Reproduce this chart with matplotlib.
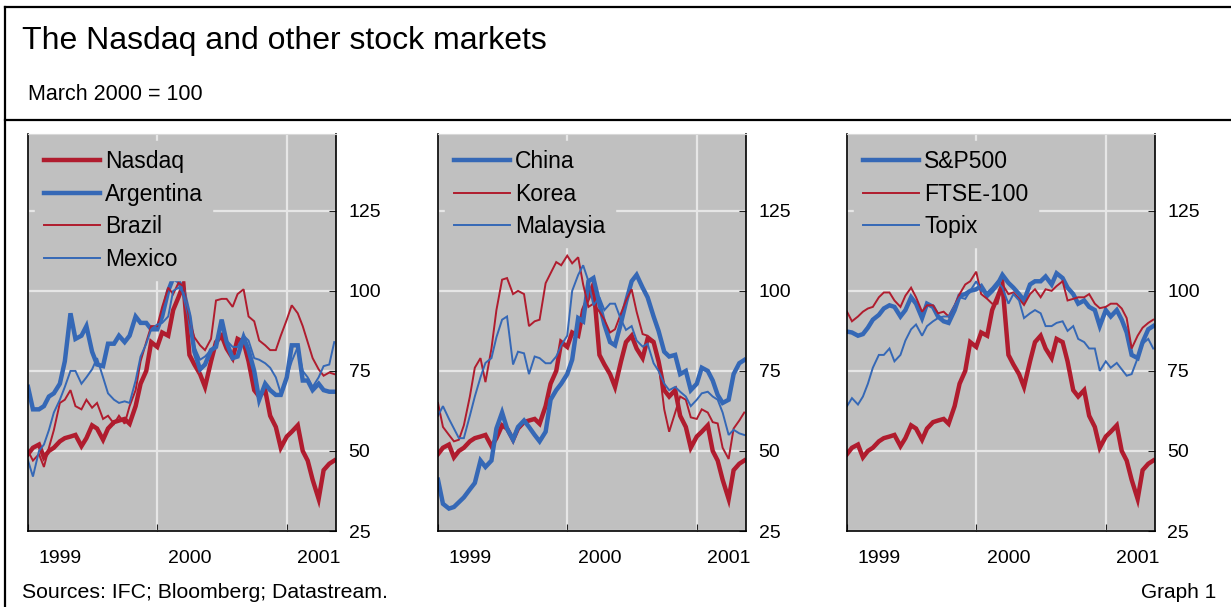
# Nasdaq and other stock markets, March 2000 = 100

import pandas as pd
import matplotlib
matplotlib.use("Agg")
import matplotlib.pyplot as plt
import matplotlib.dates as mdates
from matplotlib.lines import Line2D

plt.rcParams['font.family'] = ['Liberation Sans', 'DejaVu Sans']

# semi-monthly observations, Jan 1999 - May 2001
dates = pd.date_range('1999-01-01', '2001-05-15', freq='SMS')

nasdaq = [49, 51, 52, 48, 50, 51, 53, 54, 54.5, 55, 51.5, 54, 58, 57, 53.5, 57, 59, 59.5, 60, 58.5,
          64, 71, 75, 84, 82.5, 87, 86, 94, 98, 102, 80, 77, 74, 70, 78, 84, 86, 82, 79, 85,
          84, 78, 69, 67, 69, 61, 57.5, 51, 54.5, 56, 58, 50, 47, 41, 35, 44, 46, 47]
argentina = [70, 63, 63, 64, 67, 68, 71, 78, 93, 85, 86, 89, 81, 77, 76.5, 83.5, 83.5, 86, 84, 86,
             92, 90, 90, 88, 88, 92, 100, 104, 103, 100, 92, 81, 75.5, 77, 81.5, 82.5, 91, 84, 79, 79.5,
             85.5, 81.5, 75, 66, 71, 69, 67.5, 67.5, 73, 83, 83, 72, 72, 69, 71, 69, 68.5, 68.5]
brazil = [50, 47, 49, 45, 51, 56.5, 65, 66, 69, 64, 63, 66, 63.5, 65, 60, 61, 58.5, 61, 58.5, 64,
          69, 78, 84, 89, 89, 95, 101, 99, 102.5, 101.5, 91, 85.5, 83, 81.5, 85, 97, 97.5, 97.5, 95, 99,
          100.5, 92, 90.5, 84.5, 83, 81.5, 81.5, 86, 91, 95.5, 93, 89, 84, 79, 75.5, 73.5, 74.5, 74]
mexico = [47, 42, 50, 52, 56.5, 62, 66, 70, 75, 75, 71, 73, 75.5, 79, 73, 68, 66, 65, 65.5, 65,
          72, 79.5, 83.5, 88, 89.5, 90, 92, 100, 101, 99.5, 93, 82.5, 78.5, 79.5, 81.5, 83, 91, 84.5, 82.5, 82.5,
          86, 84.5, 79, 78.5, 77.4, 76, 73, 68, 73, 78, 82.5, 75, 73, 70, 73, 76.5, 77, 84]
china = [41, 33.5, 32, 32.5, 34, 35.5, 38, 40, 47, 45, 47, 57, 62, 57, 53.5, 57.5, 59.5, 57.5, 55, 53,
         56, 66, 69, 71, 74, 78.5, 91.5, 90.5, 103, 104, 96, 89.5, 84, 83, 90, 96.5, 103, 105, 101, 98,
         92, 87.5, 81, 79.5, 80, 74, 75, 69, 71, 76, 75, 72, 67.5, 65, 66, 74, 77.4, 78.4]
korea = [65, 57.5, 55, 53, 53.5, 58, 67, 76, 79, 71.5, 82, 94, 103.5, 104, 99, 100, 99, 89, 90.5, 91,
         102.4, 105.5, 109, 108, 111, 108.6, 110.5, 102, 95, 96, 93.5, 91, 87, 88, 93, 97, 100.5, 93.5, 86.5, 86,
         84.5, 77.4, 63, 56, 62, 67, 66, 60.5, 60, 63, 62, 59, 58.6, 51, 47.5, 57, 59.5, 62]
malaysia = [61, 64, 60, 57, 54, 54, 61, 67, 73, 77.5, 79, 85.5, 91, 92, 77, 81, 80.5, 74, 79.5, 79,
            77.4, 77.4, 79.5, 83, 86, 100, 105, 108, 103, 95.5, 98, 94, 96, 96, 91, 87.8, 89, 84.5, 82.6, 83.5,
            77.4, 75, 71, 69, 70, 68.5, 67, 64, 66, 68, 68.5, 67, 66, 62, 55, 56.6, 55.5, 55]
sp500 = [87.3, 87, 86, 86.5, 88.5, 91, 92.5, 94.5, 95.5, 95, 92, 94, 98, 96, 91.5, 96, 95, 92, 90.5, 90,
         94, 98.5, 99, 100, 100.5, 101.5, 98.5, 100, 102, 105, 102.5, 101, 99, 97, 102, 103, 103, 104.5, 102, 105.5,
         104, 101, 99, 96, 97, 95, 94, 89, 94, 92, 94, 91, 87, 80, 79, 84, 88, 89]
ftse = [93.5, 90.5, 92, 93.5, 94.5, 95, 98, 99.5, 99.5, 97, 95, 98.5, 101, 98, 93.5, 95.5, 95.5, 93, 93.5, 92,
        95.5, 99, 102, 103, 106, 99, 97.5, 96, 96, 102, 99, 99.5, 97.5, 95.6, 99, 100.5, 98, 100.5, 100, 101.5,
        103, 97, 97.5, 98, 98, 99, 96, 94.6, 95, 96, 96, 94.5, 91.5, 82, 86, 88.5, 90, 91]
topix = [64, 66.5, 64.5, 67, 71, 76, 80, 80, 82, 78, 80, 84.5, 88, 89.5, 86, 89, 90.5, 91.5, 92, 92,
         95.5, 98, 97.5, 100, 103, 100, 99.5, 101, 103, 101, 96, 99, 97, 91.5, 93, 94, 93, 89, 89, 90,
         90.5, 87.5, 89, 85, 84, 82, 82, 75, 78, 76, 77.5, 75.5, 73.5, 74, 79, 83.5, 85, 82]

RED = '#B01C2E'
BLUE = '#3568B6'
BG = '#C0C0C0'
GRID = '#E6E6E6'
THICK = 3.2
THIN = 1.4

W, H = 1231, 607
fig = plt.figure(figsize=(W / 100, H / 100), dpi=100)

# (left px, [(label, values, colour, width), ...])
panels = [
    (28, [('Nasdaq', nasdaq, RED, THICK), ('Argentina', argentina, BLUE, THICK),
          ('Brazil', brazil, RED, THIN), ('Mexico', mexico, BLUE, THIN)]),
    (438, [(None, nasdaq, RED, THICK), ('China', china, BLUE, THICK),
           ('Korea', korea, RED, THIN), ('Malaysia', malaysia, BLUE, THIN)]),
    (847, [(None, nasdaq, RED, THICK), ('S&P500', sp500, BLUE, THICK),
           ('FTSE-100', ftse, RED, THIN), ('Topix', topix, BLUE, THIN)]),
]

top, bottom, width = 134, 531, 308
for left, series in panels:
    ax = fig.add_axes([left / W, 1 - bottom / H, width / W, (bottom - top) / H])
    ax.set_facecolor(BG)
    for label, vals, col, lw in series:
        ax.plot(dates, vals, color=col, lw=lw, label=label if label else '_nolegend_',
                solid_joinstyle='miter')

    ax.set_ylim(25, 149)
    ax.set_xlim(pd.Timestamp('1999-01-01'), pd.Timestamp('2001-05-20'))
    ax.set_yticks([25, 50, 75, 100, 125])
    ax.yaxis.tick_right()
    ax.tick_params(axis='y', direction='in', length=5, pad=9, labelsize=14,
                   right=True, left=False, color='#222222')

    ax.xaxis.set_major_locator(mdates.YearLocator())
    ax.xaxis.set_major_formatter(plt.NullFormatter())
    ax.xaxis.set_minor_locator(mdates.MonthLocator(bymonth=4))
    ax.xaxis.set_minor_formatter(mdates.DateFormatter('%Y'))
    ax.tick_params(axis='x', which='major', direction='in', length=5, color='#222222')
    ax.tick_params(axis='x', which='minor', length=0, pad=14, labelsize=14)

    ax.grid(True, which='major', color=GRID, lw=1.6)
    ax.set_axisbelow(True)
    for s in ['left', 'bottom', 'right']:
        ax.spines[s].set_color('black')
        ax.spines[s].set_linewidth(1.2)
    ax.spines['top'].set_color('#D8D8D8')

    leg = ax.legend(loc='upper left', bbox_to_anchor=(0.0, 1.0), frameon=True, fancybox=False,
                    facecolor=BG, edgecolor=BG, framealpha=1, fontsize=16.5,
                    handlelength=2.45, handletextpad=0.22, labelspacing=0.42,
                    borderpad=0.4, borderaxespad=0.3)

# frame and texts
for xs, ys in [([5, W], [7, 7]), ([5, 5], [7, H]), ([5, W], [120, 120])]:
    fig.add_artist(Line2D([x / W for x in xs], [1 - y / H for y in ys],
                          transform=fig.transFigure, color='black', lw=1.6))

fig.text(22 / W, 1 - 41 / H, 'The Nasdaq and other stock markets', fontsize=23, va='center')
fig.text(28 / W, 1 - 95 / H, 'March 2000 = 100', fontsize=15.5, va='center')
fig.text(22 / W, 1 - 592 / H, 'Sources: IFC; Bloomberg; Datastream.', fontsize=15.3, va='center')
fig.text(1216 / W, 1 - 592 / H, 'Graph 1', fontsize=15, va='center', ha='right')

fig.savefig('out.png', dpi=100)
